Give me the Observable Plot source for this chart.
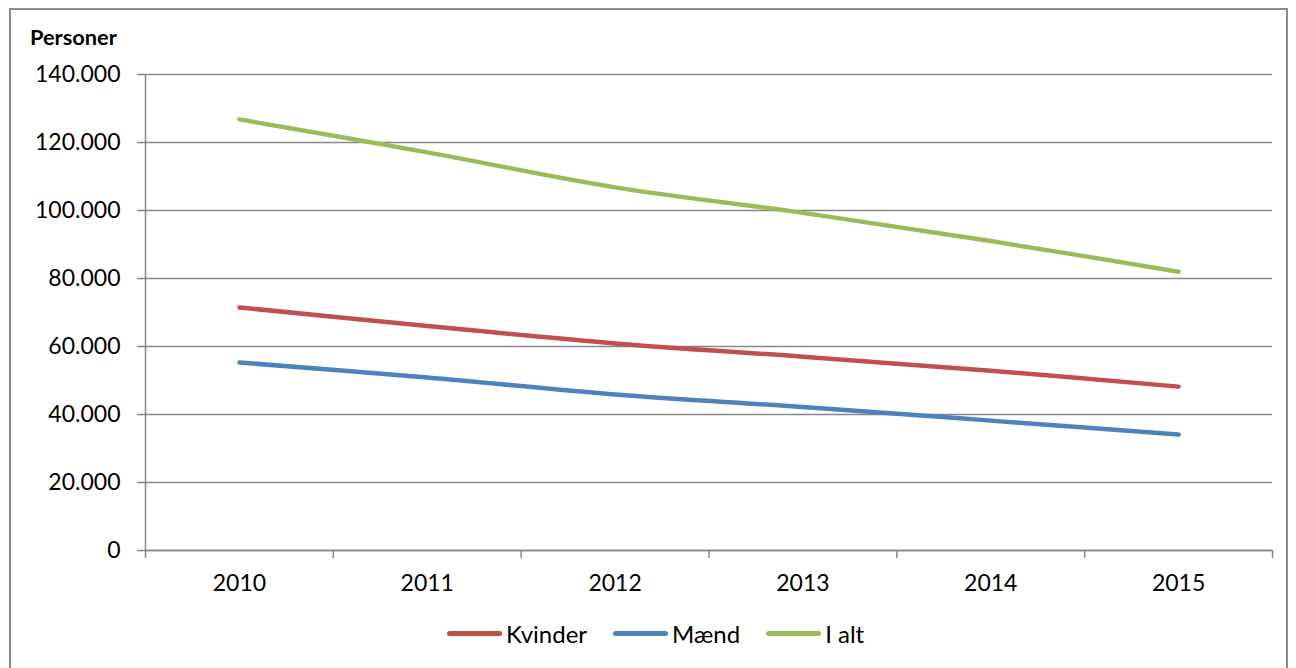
<!DOCTYPE html>
<html>
<head>
<meta charset="utf-8">
<script src="https://cdn.jsdelivr.net/npm/d3@7"></script>
<script src="https://cdn.jsdelivr.net/npm/@observablehq/plot@0.6"></script>
<style>
  html, body { margin: 0; padding: 0; background: #fff; overflow: hidden; }
  body { width: 1296px; height: 668px; position: relative; font-family: Lato, "Open Sans", sans-serif; }
  #frame { position: absolute; left: 9px; top: 8px; width: 1279px; height: 700px; border: 2px solid #8c8c8c; box-sizing: border-box; }
  #ylabel { position: absolute; left: 30px; top: 25px; font-weight: bold; font-size: 21.8px; line-height: 24px; color: #000; }
  #chart { position: absolute; left: 0; top: 0; }
  #legend { position: absolute; left: 447px; top: 620px; height: 26px; display: flex; align-items: center; font-size: 24px; color: #000; }
  .item { display: flex; align-items: center; margin-right: 26px; }
  .item:last-child { margin-right: 0; }
  .swatch { width: 55px; height: 5px; border-radius: 3px; margin-right: 4px; }
</style>
</head>
<body>
<div id="frame"></div>
<div id="ylabel">Personer</div>
<div id="chart"></div>
<div id="legend"></div>
<script>
const years = [2010, 2011, 2012, 2013, 2014, 2015];
const kvinder = [71500, 66000, 60900, 57000, 52900, 48200];
const maend = [55300, 50900, 45900, 42200, 38200, 34100];
const ialt = [126800, 117100, 106800, 99300, 91000, 82000];
const seriesNames = ["Kvinder", "Mænd", "I alt"];
const seriesColors = ["#C0504D", "#4F81BD", "#9BBB59"];
const yTicks = [0, 20000, 40000, 60000, 80000, 100000, 120000, 140000];

const seriesValues = [kvinder, maend, ialt];
const data = [];
seriesNames.forEach((name, s) => {
  years.forEach((yr, i) => data.push({ year: yr, series: name, value: seriesValues[s][i] }));
});
const bounds = years.map(y => y - 0.5).concat([years[years.length - 1] + 0.5]);

const locale = d3.formatLocale({ decimal: ",", thousands: ".", grouping: [3], currency: ["", " kr"] });
const fmt = locale.format(",");
const gray = "#878787";

const chart = Plot.plot({
  width: 1296,
  height: 610,
  marginLeft: 145,
  marginRight: 24,
  marginTop: 74,
  marginBottom: 60,
  x: { type: "linear", domain: [bounds[0], bounds[bounds.length - 1]] },
  y: { domain: [0, 140000] },
  color: { domain: seriesNames, range: seriesColors },
  style: { fontFamily: "Lato, 'Open Sans', sans-serif", fontSize: "23px", color: "#000", background: "transparent", overflow: "visible" },
  marks: [
    Plot.gridY(yTicks, { stroke: gray, strokeOpacity: 1, strokeWidth: 1.5 }),
    Plot.axisY(yTicks, { tickSize: 8, tickPadding: 17, tickFormat: fmt, stroke: gray, strokeWidth: 1.5, label: null, fontSize: 23 }),
    Plot.ruleX([bounds[0]], { stroke: gray, strokeWidth: 1.5 }),
    Plot.ruleY([0], { stroke: gray, strokeWidth: 1.5 }),
    Plot.axisX(bounds, { tickSize: 8, tickFormat: () => "", stroke: gray, strokeWidth: 1.5, label: null }),
    Plot.axisX(years, { tickSize: 0, tickPadding: 24, tickFormat: d => String(d), label: null, fontSize: 23 }),
    Plot.line(data, { x: "year", y: "value", z: "series", stroke: "series", strokeWidth: 4.5, curve: "catmull-rom", strokeLinecap: "round", strokeLinejoin: "round" })
  ]
});
document.getElementById("chart").appendChild(chart);

const legend = document.getElementById("legend");
seriesNames.forEach((name, i) => {
  const item = document.createElement("div");
  item.className = "item";
  const sw = document.createElement("div");
  sw.className = "swatch";
  sw.style.background = seriesColors[i];
  const t = document.createElement("span");
  t.textContent = name;
  item.appendChild(sw);
  item.appendChild(t);
  legend.appendChild(item);
});
</script>
</body>
</html>
